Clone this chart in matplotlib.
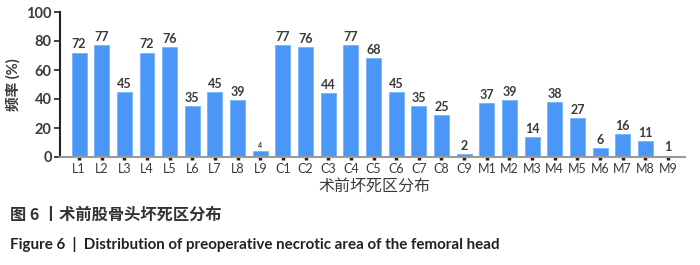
import matplotlib
matplotlib.use("Agg")
import matplotlib.pyplot as plt

plt.rcParams['font.family'] = ['Lato', 'Noto Sans CJK SC', 'DejaVu Sans']

categories = ["L1","L2","L3","L4","L5","L6","L7","L8","L9",
              "C1","C2","C3","C4","C5","C6","C7","C8","C9",
              "M1","M2","M3","M4","M5","M6","M7","M8","M9"]
values = [72,77,45,72,76,35,45,39,4,
          77,76,44,77,68,45,35,29,2,
          37,39,14,38,27,6,16,11,1]
labels = ["72","77","45","72","76","35","45","39","4",
          "77","76","44","77","68","45","35","25","2",
          "37","39","14","38","27","6","16","11","1"]
yticks = [0,20,40,60,80,100]

txt = "#3a3a3a"
fig = plt.figure(figsize=(7.0, 2.65), dpi=100)
ax = fig.add_axes([60/700, 1-157/265, 625/700, 145/265])
x = list(range(len(categories)))
bars = ax.bar(x, values, width=0.66, color="#4b97f7", edgecolor="#78b2fb", linewidth=0.6, zorder=2)
for i, (v, lab) in enumerate(zip(values, labels)):
    fs = 5 if lab == "4" else 9
    ax.text(i, v + 1.5, lab, ha="center", va="bottom", fontsize=fs, fontweight="bold", color=txt)

ax.set_xlim(-0.84, 26.75)
ax.set_ylim(0, 100)
ax.set_yticks(yticks)
ax.set_yticklabels([str(t) for t in yticks], fontsize=10.5, fontweight="bold", color=txt)
ax.set_xticks(x)
ax.set_xticklabels(categories, fontsize=9, color=txt)
ax.tick_params(axis="x", length=2, width=2.5, color="#222222", pad=2)
ax.tick_params(axis="y", length=4, width=1.2, color="#222222", pad=2)
for s in ["top", "right"]:
    ax.spines[s].set_visible(False)
ax.spines["left"].set_color("#222222")
ax.spines["left"].set_linewidth(1.5)
ax.spines["bottom"].set_color("#9a9a9a")
ax.spines["bottom"].set_linewidth(1.5)

ax.set_ylabel("频率 (%)", fontsize=10.5, fontweight="bold", color=txt, labelpad=4)
fig.text(374/700, 1-186/265, "术前坏死区分布", ha="center", va="center", fontsize=11.5, color=txt)

fig.text(10/700, 1-215/265, "图 6 丨术前股骨头坏死区分布", ha="left", va="center",
         fontsize=11.7, fontweight="bold", color="#333333", family=['Noto Sans CJK SC', 'DejaVu Sans'])
fig.text(10/700, 1-245/265, "Figure 6  |  Distribution of preoperative necrotic area of the femoral head",
         ha="left", va="center", fontsize=10.9, fontweight="bold", color="#222222")

fig.savefig("out.png", dpi=100)
